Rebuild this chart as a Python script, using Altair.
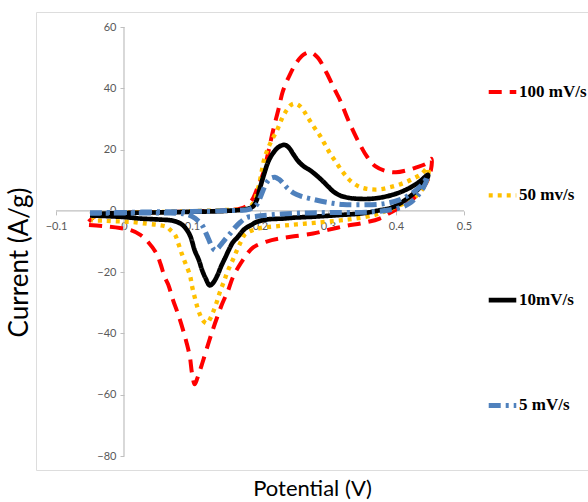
import altair as alt
import pandas as pd

series = ["100 mV/s", "50 mv/s", "10mV/s", "5 mV/s"]
colors = ["#FF0000", "#FFC000", "#000000", "#4F81BD"]
dashes_round = [[10, 11], [0.1, 9], [1, 0], [9, 8, 0.1, 8]]
dashes_butt = [[13, 8], [4, 5], [1, 0], [12, 5, 3, 5]]
widths = [4, 5, 2.2, 3.5]

x_ticks = [-0.1, 0, 0.1, 0.2, 0.3, 0.4, 0.5]
y_ticks = [-80, -60, -40, -20, 0, 20, 40, 60]

# 100 mV/s
x_100 = [-0.052, -0.04, -0.02, 0.0, 0.05, 0.1, 0.15, 0.175, 0.188, 0.197, 0.205, 0.212, 0.219, 0.227,
         0.234, 0.244, 0.254, 0.264, 0.274, 0.285, 0.298, 0.31, 0.318, 0.33, 0.345, 0.358, 0.37, 0.385,
         0.4, 0.415, 0.43, 0.445, 0.452,
         0.45, 0.44, 0.43, 0.42, 0.41, 0.403, 0.39, 0.376, 0.35, 0.328, 0.3, 0.278, 0.25, 0.229, 0.21,
         0.19, 0.178, 0.168, 0.16, 0.153, 0.145, 0.137, 0.131, 0.124, 0.115, 0.108, 0.104, 0.1, 0.097,
         0.092, 0.087, 0.08, 0.072, 0.065, 0.06, 0.054, 0.048, 0.036, 0.024, 0.01, -0.006, -0.03, -0.052]
y_100 = [-3.5, -1.5, -0.8, -0.6, -0.4, -0.2, 0.2, 1.0, 3.5, 8, 12.5, 19, 26, 33,
         39.3, 44.5, 48.5, 51, 51.8, 50, 45, 39.5, 36, 29.5, 22.5, 17.5, 14.5, 13,
         12.6, 13.2, 14.2, 15.5, 17,
         12, 7.5, 5, 3, 1.5, 0.8, -0.8, -2.5, -4, -4.8, -6.2, -7.4, -8.3, -9, -10,
         -11.9, -15, -18.4, -21.7, -26, -30, -34.7, -38.5, -43.3, -49.8, -54.5, -56.6, -53, -47.8,
         -43, -39, -34, -29, -24, -21.7, -17.5, -14, -10.3, -7.8, -6.3, -5.6, -5, -4.6]

# 50 mV/s
x_50 = [-0.048, -0.04, -0.02, 0.0, 0.05, 0.1, 0.15, 0.18, 0.19, 0.198, 0.207, 0.216, 0.225, 0.232,
        0.239, 0.245, 0.251, 0.258, 0.264, 0.27, 0.279, 0.288, 0.296, 0.303, 0.313, 0.322, 0.332,
        0.345, 0.357, 0.375, 0.391, 0.41, 0.425, 0.437, 0.447,
        0.447, 0.44, 0.43, 0.415, 0.398, 0.38, 0.366, 0.34, 0.318, 0.28, 0.254, 0.23, 0.2, 0.19, 0.178,
        0.172, 0.166, 0.16, 0.153, 0.147, 0.141, 0.136, 0.131, 0.126, 0.122, 0.117, 0.112, 0.108,
        0.104, 0.1, 0.097, 0.091, 0.085, 0.08, 0.075, 0.068, 0.063, 0.05, 0.034, 0.01, -0.01, -0.03, -0.048]
y_50 = [-2.5, -1.2, -0.8, -0.6, -0.4, -0.1, 0.3, 0.8, 2.5, 8, 17.5, 22.5, 26.3, 30,
        32.8, 34.5, 35, 34.3, 32.8, 30.6, 27.5, 24.6, 21.5, 18.8, 15.5, 12.6, 10,
        8, 7.2, 7, 7.7, 9, 10.5, 12, 14,
        11, 7.5, 5, 2.8, 1.2, -0.5, -1.5, -2.5, -3.1, -3.9, -4.4, -4.9, -5.6, -6.2, -7.6,
        -10, -12.9, -16, -19.4, -23, -26.5, -30, -33, -35.5, -36.7, -36, -34, -31.5,
        -28.2, -24.5, -21, -17.5, -14, -10.7, -7.8, -6.2, -5.2, -4.6, -4.2, -3.6, -3.4, -3.2, -3.1]

# 10 mV/s
x_10 = [-0.05, -0.03, 0.0, 0.05, 0.1, 0.15, 0.18, 0.19, 0.195, 0.2, 0.206, 0.212, 0.218, 0.225,
        0.231, 0.237, 0.243, 0.249, 0.256, 0.264, 0.274, 0.283, 0.291, 0.3, 0.308, 0.318, 0.332,
        0.35, 0.365, 0.381, 0.4, 0.42, 0.435, 0.447,
        0.447, 0.44, 0.43, 0.415, 0.401, 0.39, 0.376, 0.35, 0.32, 0.278, 0.25, 0.234, 0.21, 0.195,
        0.187, 0.18, 0.175, 0.167, 0.16, 0.154, 0.149, 0.143, 0.137, 0.131, 0.126, 0.12, 0.115,
        0.11, 0.104, 0.098, 0.093, 0.085, 0.072, 0.05, 0.024, 0.0, -0.025, -0.05]
y_10 = [-1.2, -0.9, -0.7, -0.5, -0.3, 0.0, 0.6, 1.5, 3.5, 7.5, 12, 16, 18.5, 20.4,
        21.3, 21.5, 20.5, 18.5, 16.3, 14.6, 13.2, 11.6, 10, 8, 6.3, 5, 4.2,
        3.9, 4, 4.5, 5.6, 7.5, 9.6, 11.8,
        11.2, 9, 6.5, 3.8, 1.8, 0.8, 0.2, -0.8, -1.3, -1.9, -2.2, -2.5, -2.8, -3.6,
        -4.6, -5.5, -6.4, -8.6, -10.3, -12.8, -15.2, -18, -21.2, -23.5, -24.3, -22, -19.4,
        -16, -12.9, -8.5, -6.4, -4.4, -3.2, -2.8, -2.5, -2.0, -1.7, -1.5]

# 5 mV/s
x_5 = [-0.05, 0.0, 0.05, 0.1, 0.15, 0.185, 0.195, 0.2, 0.205, 0.21, 0.215, 0.222, 0.228, 0.234,
       0.241, 0.249, 0.26, 0.274, 0.298, 0.322, 0.35, 0.381, 0.405, 0.425, 0.438, 0.447,
       0.44, 0.43, 0.42, 0.41, 0.39, 0.357, 0.32, 0.284, 0.25, 0.205, 0.19, 0.181, 0.171, 0.163,
       0.156, 0.149, 0.144, 0.139, 0.134, 0.129, 0.124, 0.12, 0.115, 0.105, 0.097, 0.087, 0.06,
       0.0, -0.05]
y_5 = [-0.6, -0.5, -0.3, -0.2, 0.1, 0.6, 2, 4.2, 7, 9.3, 10.6, 11, 10.3, 9,
       7.3, 5.9, 4.8, 4.0, 2.8, 2.1, 2.0, 2.3, 3.6, 6, 8.5, 11.2,
       7.5, 4.5, 2.5, 1.3, 0.3, -0.4, -0.5, -0.6, -0.8, -1.5, -1.9, -2.1, -3.7, -5.5,
       -7.4, -9.2, -10.6, -12.0, -12.9, -11.5, -9, -7, -4.7, -2.5, -1.5, -0.9, -0.7,
       -0.7, -0.8]

rows = []
for name, xs, ys in zip(series, [x_100, x_50, x_10, x_5], [y_100, y_50, y_10, y_5]):
    for i, (a, b) in enumerate(zip(xs, ys)):
        rows.append({"series": name, "E": a, "I": b, "i": i})
df = pd.DataFrame(rows)

x_dom = [-88 / 680, 464 / 680]
y_dom = [-(470 - 210.9) / 3.0643, (210.9 - 12) / 3.0643]

xscale = alt.Scale(domain=x_dom, nice=False, zero=False)
yscale = alt.Scale(domain=y_dom, nice=False, zero=False)

ENCODINGS = [
    {"symbols": {"update": {"strokeCap": {"value": "round"}}}},
    {"symbols": {"enter": {"strokeCap": {"value": "round"}}}},
    None,
]


def build(enc):
    round_caps = enc is not None
    legend_kw = dict(
        title=None, orient="none", legendX=450, legendY=64,
        symbolType="stroke", symbolSize=760, symbolStrokeWidth=4,
        rowPadding=79.3, labelFont="Liberation Serif", labelFontWeight="bold",
        labelFontSize=17, labelColor="#000000", labelOffset=0,
    )
    if round_caps:
        legend_kw["encode"] = enc
    legend = alt.Legend(**legend_kw)
    dashes = dashes_round if round_caps else dashes_butt
    cap = "round" if round_caps else "butt"

    lines = alt.Chart(df).mark_line(interpolate="catmull-rom", strokeJoin="round",
                                    strokeCap=cap, clip=True).encode(
        x=alt.X("E:Q", scale=xscale, axis=alt.Axis(
            values=x_ticks, format=".1~f", offset=-259.1, domain=False, grid=False, tickSize=4,
            tickColor="#BFBFBF", labelColor="#595959", labelFont="Lato", labelFontSize=11,
            labelPadding=6, title="Potential (V)", titleFont="Lato", titleFontSize=22,
            titleFontWeight="normal", titleColor="#000000", titleX=276, titleY=278,
            titleBaseline="middle", titleAlign="center", labelFlush=False)),
        y=alt.Y("I:Q", scale=yscale, axis=alt.Axis(
            values=y_ticks, format="d", offset=-88, domain=False, grid=False, tickSize=4,
            tickColor="#BFBFBF", labelColor="#595959", labelFont="Lato", labelFontSize=11,
            labelPadding=4, title="Current (A/g)", titleFont="Lato", titleFontSize=26,
            titleFontWeight="normal", titleColor="#000000", titleX=-105, titleY=250,
            titleAngle=270, titleBaseline="middle", titleAlign="center", labelFlush=False)),
        color=alt.Color("series:N", scale=alt.Scale(domain=series, range=colors), legend=legend),
        strokeDash=alt.StrokeDash("series:N", scale=alt.Scale(domain=series, range=dashes),
                                  legend=legend),
        strokeWidth=alt.StrokeWidth("series:N", scale=alt.Scale(domain=series, range=widths),
                                    legend=None),
        order="i:Q",
    )

    hline = pd.DataFrame({"x1": [x_ticks[0]], "x2": [x_ticks[-1]], "y": [0]})
    vline = pd.DataFrame({"x": [0], "y1": [y_ticks[0]], "y2": [y_ticks[-1]]})

    xaxis_line = alt.Chart(hline).mark_rule(color="#BFBFBF", strokeWidth=1.2).encode(
        x=alt.X("x1:Q", scale=xscale), x2="x2:Q", y=alt.Y("y:Q", scale=yscale))
    yaxis_line = alt.Chart(vline).mark_rule(color="#BFBFBF", strokeWidth=1.2).encode(
        x=alt.X("x:Q", scale=xscale), y=alt.Y("y1:Q", scale=yscale), y2="y2:Q")

    c = alt.layer(xaxis_line, yaxis_line, lines).properties(
        width=552, height=458,
        autosize=alt.AutoSizeParams(type="none"),
        padding={"left": 36, "top": 12, "right": 0, "bottom": 32},
    ).configure_view(stroke="#8C8C8C", strokeWidth=1.3).configure(background="white")
    c.to_dict()
    return c


chart = None
for enc in ENCODINGS:
    try:
        chart = build(enc)
        break
    except Exception:
        continue

chart.save("out.html", embed_options={"renderer": "svg", "actions": False})
